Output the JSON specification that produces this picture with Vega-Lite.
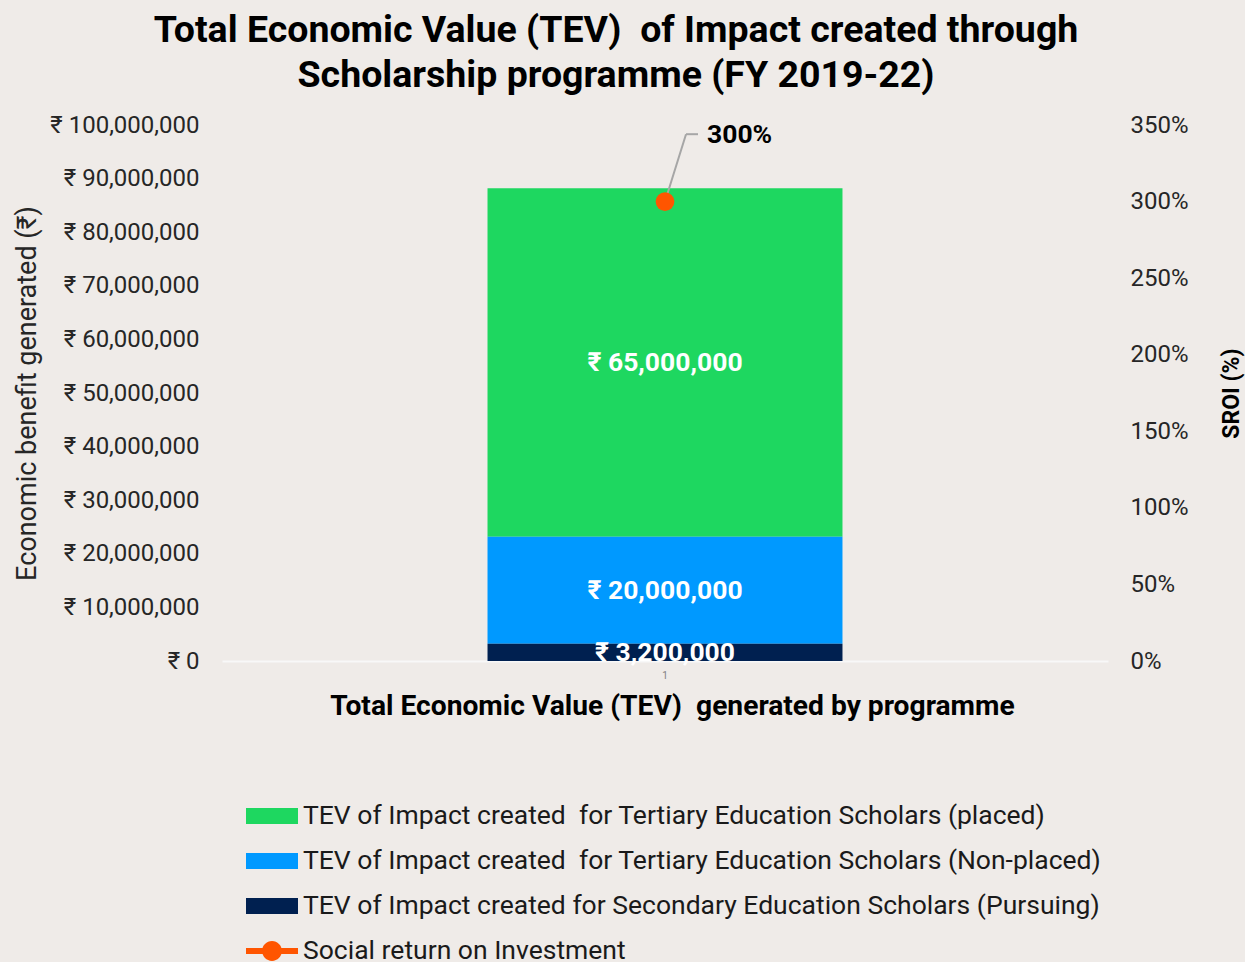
{
  "$schema": "https://vega.github.io/schema/vega-lite/v6.json",
  "width": 886,
  "height": 536,
  "autosize": {"type": "none"},
  "padding": {"left": 222, "top": 125, "right": 137, "bottom": 301},
  "background": "#EFEBE8",
  "config": {
    "font": "Roboto",
    "view": {"stroke": null},
    "locale": {"number": {"decimal": ".", "thousands": ",", "grouping": [3], "currency": ["₹ ", ""]}},
    "axis": {"labelFont": "Roboto", "titleFont": "Roboto", "labelColor": "#262626", "titleColor": "#262626"}
  },
  "title": {
    "text": ["Total Economic Value (TEV)\u00a0 of Impact created through", "Scholarship programme (FY 2019-22)"],
    "font": "Roboto",
    "fontSize": 37.5,
    "fontWeight": "bold",
    "color": "#000000",
    "lineHeight": 45,
    "anchor": "middle",
    "frame": "group",
    "dx": -49,
    "offset": 19
  },
  "datasets": {
    "tev": [
      {"cat": "1", "series": "TEV of Impact created\u00a0 for Tertiary Education Scholars (placed)", "value": 65000000},
      {"cat": "1", "series": "TEV of Impact created\u00a0 for Tertiary Education Scholars (Non-placed)", "value": 20000000},
      {"cat": "1", "series": "TEV of Impact created for Secondary Education Scholars (Pursuing)", "value": 3200000}
    ],
    "sroi": [
      {"cat": "1", "series": "Social return on Investment", "sroi": 3.0}
    ]
  },
  "encoding": {
    "x": {
      "field": "cat",
      "type": "nominal",
      "scale": {"paddingInner": 0, "paddingOuter": 0.748},
      "axis": {
        "title": "Total Economic Value (TEV)\u00a0 generated by programme",
        "titleFontSize": 28.2,
        "titleFontWeight": "bold",
        "titleColor": "#000000",
        "titlePadding": 12,
        "titleX": 450,
        "labelAngle": 0,
        "labelFontSize": 10,
        "labelColor": "#7f7f7f",
        "labelPadding": 9,
        "ticks": false,
        "domainColor": "#F8F8F8",
        "domainWidth": 2
      }
    }
  },
  "layer": [
    {
      "data": {"name": "tev"},
      "transform": [
        {"stack": "value", "groupby": ["cat"], "sort": [{"field": "value", "order": "ascending"}], "as": ["v0", "v1"]},
        {"calculate": "(datum.v0 + datum.v1) / 2", "as": "mid"}
      ],
      "layer": [
        {
          "mark": {"type": "bar"},
          "encoding": {
            "y": {
              "field": "v0",
              "type": "quantitative",
              "scale": {"domain": [0, 100000000], "nice": false},
              "axis": {
                "orient": "left",
                "values": [0, 10000000, 20000000, 30000000, 40000000, 50000000, 60000000, 70000000, 80000000, 90000000, 100000000],
                "format": "$,.0f",
                "labelFontSize": 24,
                "labelPadding": 23,
                "domain": false,
                "ticks": false,
                "grid": false,
                "title": "Economic benefit generated (₹)",
                "titleFontSize": 27,
                "titleFontWeight": "normal",
                "titlePadding": 8
              }
            },
            "y2": {"field": "v1"},
            "color": {
              "field": "series",
              "type": "nominal",
              "scale": {
                "domain": [
                  "TEV of Impact created\u00a0 for Tertiary Education Scholars (placed)",
                  "TEV of Impact created\u00a0 for Tertiary Education Scholars (Non-placed)",
                  "TEV of Impact created for Secondary Education Scholars (Pursuing)",
                  "Social return on Investment"
                ],
                "range": ["#1ED760", "#0099FF", "#002050", "#FF5500"]
              },
              "legend": {
                "title": null,
                "orient": "none",
                "legendX": 24,
                "legendY": 665,
                "direction": "vertical",
                "labelFont": "Roboto",
                "labelFontSize": 26.5,
                "labelColor": "#1a1a1a",
                "labelLimit": 1000,
                "labelOffset": 5,
                "rowPadding": 5,
                "padding": 0,
                "symbolSize": 2704,
                "symbolStrokeWidth": 0,
                "encode": {
                  "symbols": {
                    "update": {
                      "shape": {"signal": "datum.value === 'Social return on Investment' ? 'M-1,-0.12H1V0.12H-1Z M0.38,0A0.38,0.38 0 1,1 -0.38,0A0.38,0.38 0 1,1 0.38,0Z' : 'M-1,-0.31H1V0.31H-1Z'"},
                      "size": {"value": 2704},
                      "strokeWidth": {"value": 0}
                    }
                  }
                }
              }
            }
          }
        },
        {
          "mark": {"type": "text", "color": "#FFFFFF", "fontSize": 26.5, "fontWeight": "bold", "font": "Roboto", "align": "center", "baseline": "middle", "dy": 1},
          "encoding": {
            "y": {"field": "mid", "type": "quantitative"},
            "text": {"field": "value", "type": "quantitative", "format": "$,"}
          }
        }
      ]
    },
    {
      "data": {"name": "sroi"},
      "layer": [
        {
          "mark": {"type": "rule", "color": "#A6A6A6", "strokeWidth": 2, "x2Offset": 21},
          "encoding": {
            "y": {
              "field": "sroi",
              "type": "quantitative",
              "scale": {"domain": [0, 3.5], "nice": false},
              "axis": {
                "orient": "right",
                "values": [0, 0.5, 1, 1.5, 2, 2.5, 3, 3.5],
                "format": ".0%",
                "labelFontSize": 24,
                "labelPadding": 22,
                "domain": false,
                "ticks": false,
                "grid": false,
                "title": "SROI (%)",
                "titleFontSize": 23,
                "titleFontWeight": "bold",
                "titleColor": "#000000",
                "titleAngle": 270,
                "titlePadding": 55
              }
            },
            "y2": {"datum": 3.44},
            "x2": {"field": "cat", "type": "nominal"}
          }
        },
        {
          "mark": {"type": "rule", "color": "#A6A6A6", "strokeWidth": 2, "xOffset": 21, "x2Offset": 33},
          "encoding": {
            "y": {"datum": 3.44},
            "x2": {"field": "cat", "type": "nominal"}
          }
        },
        {
          "mark": {"type": "point", "filled": true, "shape": "circle", "size": 350, "opacity": 1},
          "encoding": {
            "y": {"field": "sroi", "type": "quantitative"},
            "color": {"field": "series", "type": "nominal"}
          }
        },
        {
          "mark": {"type": "text", "fontSize": 26.5, "fontWeight": "bold", "font": "Roboto", "color": "#000000", "align": "left", "baseline": "middle", "dx": 42, "dy": 1},
          "encoding": {
            "y": {"datum": 3.44},
            "text": {"field": "sroi", "type": "quantitative", "format": ".0%"}
          }
        }
      ]
    }
  ],
  "resolve": {"scale": {"y": "independent"}}
}
